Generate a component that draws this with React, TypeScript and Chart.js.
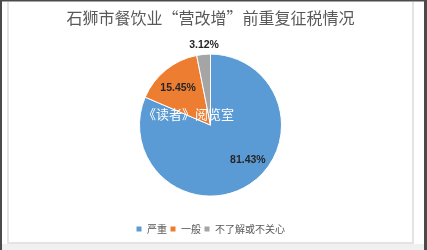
import React, { useEffect, useRef } from "react";
import { Chart, registerables } from "chart.js";

Chart.register(...registerables);

const categories = ["严重", "一般", "不了解或不关心"];
const values = [81.43, 15.45, 3.12];
const valueLabels = ["81.43%", "15.45%", "3.12%"];
const colors = ["#5B9BD5", "#ED7D31", "#A5A5A5"];
const titleText = "石狮市餐饮业“营改增”前重复征税情况";
const watermarkText = "《读者》阅览室";

// label placement relative to each slice's middle angle (degrees) and radius fraction
const labelPlacement = [
  { dAngle: -13.6, r: 0.72 },
  { dAngle: -2.3, r: 0.69 },
  { dAngle: 1, r: 1.13 },
];

const framePlugin = {
  id: "frame",
  beforeDraw(chart: any) {
    const { ctx, width, height } = chart;
    ctx.save();
    ctx.fillStyle = "#ffffff";
    ctx.fillRect(0, 0, width, height);
    ctx.fillStyle = "#f0f0f0";
    ctx.fillRect(0, 244, width, height - 244);
    ctx.strokeStyle = "#dcdcdc";
    ctx.lineWidth = 1.5;
    ctx.beginPath();
    ctx.moveTo(8, 2);
    ctx.lineTo(8, 243);
    ctx.lineTo(413, 243);
    ctx.lineTo(413, 2);
    ctx.stroke();
    ctx.fillStyle = "#4a4a4a";
    ctx.fillRect(0, 0, width, 1.5);
    ctx.fillRect(0, 0, 2, height);
    ctx.fillRect(width - 3, 0, 3, height);
    ctx.restore();
  },
};

const labelPlugin = {
  id: "sliceLabels",
  afterDatasetsDraw(chart: any) {
    const { ctx } = chart;
    const meta = chart.getDatasetMeta(0);
    ctx.save();
    ctx.font = "bold 10.5px 'Liberation Sans', Arial, sans-serif";
    ctx.fillStyle = "#262626";
    ctx.textAlign = "center";
    ctx.textBaseline = "middle";
    meta.data.forEach((arc: any, i: number) => {
      const p = arc.getProps(["x", "y", "startAngle", "endAngle", "outerRadius"], true);
      const pl = labelPlacement[i];
      const mid = (p.startAngle + p.endAngle) / 2 + (pl.dAngle * Math.PI) / 180;
      const rr = p.outerRadius * pl.r;
      ctx.fillText(valueLabels[i], p.x + Math.cos(mid) * rr, p.y + Math.sin(mid) * rr);
    });
    ctx.restore();
  },
  afterDraw(chart: any) {
    const { ctx } = chart;
    ctx.save();
    ctx.font = "13px 'Noto Sans CJK SC', sans-serif";
    ctx.fillStyle = "#ffffff";
    ctx.textAlign = "left";
    ctx.textBaseline = "middle";
    ctx.fillText(watermarkText, 143, 114);
    ctx.restore();
  },
};

export default function App() {
  const ref = useRef<HTMLCanvasElement | null>(null);
  useEffect(() => {
    if (!ref.current) return;
    const chart = new Chart(ref.current, {
      type: "pie",
      data: {
        labels: categories,
        datasets: [
          {
            data: values,
            backgroundColor: colors,
            borderColor: "#ffffff",
            borderWidth: 1,
            hoverOffset: 0,
          },
        ],
      },
      options: {
        animation: false,
        responsive: false,
        radius: 71,
        layout: { padding: { left: 0, right: 6, top: 0, bottom: 6 } },
        plugins: {
          title: {
            display: true,
            text: titleText,
            color: "#595959",
            font: { family: "'Noto Sans CJK SC', sans-serif", size: 16, weight: "normal" },
            padding: { top: 8, bottom: 2 },
          },
          legend: {
            position: "bottom",
            labels: {
              boxWidth: 6,
              boxHeight: 6,
              padding: 3,
              color: "#595959",
              font: { family: "'Noto Sans CJK SC', sans-serif", size: 10 },
            },
          },
          tooltip: { enabled: false },
        },
      } as any,
      plugins: [framePlugin, labelPlugin],
    });
    return () => chart.destroy();
  }, []);
  return (
    <div style={{ position: "fixed", left: 0, top: 0, width: 427, height: 250 }}>
      <canvas ref={ref} width={427} height={250} style={{ display: "block" }} />
    </div>
  );
}
